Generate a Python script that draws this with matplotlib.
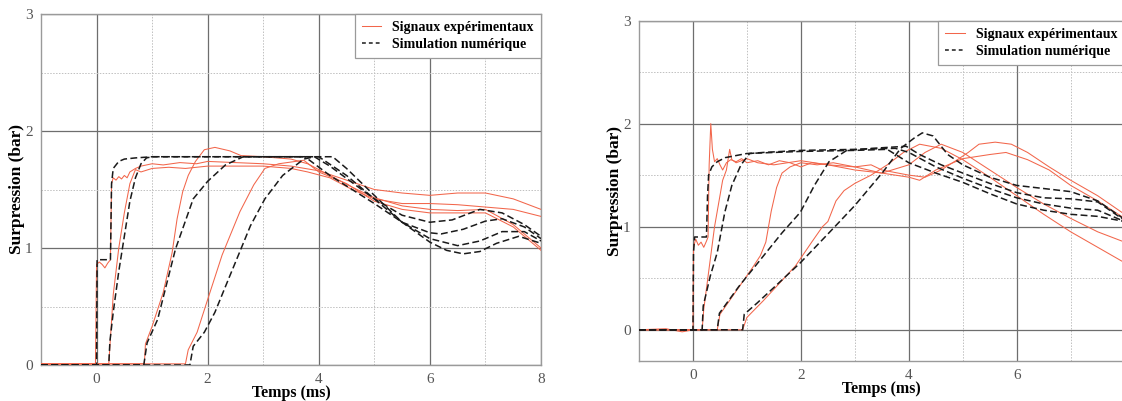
import numpy as np
import matplotlib
matplotlib.use("Agg")
import matplotlib.pyplot as plt
from matplotlib.ticker import MultipleLocator

plt.rcParams['font.family'] = ['Liberation Serif', 'DejaVu Serif']

# ---- left panel data (t in ms, p in bar) ----
tL_exp1 = [-1, -0.6, -0.3, -0.02, 0.0, 0.05, 0.1, 0.15, 0.2, 0.25, 0.27, 0.3, 0.35, 0.4, 0.45, 0.5, 0.55, 0.6,
           0.7, 0.8, 1.0, 1.2, 1.5, 1.8, 2.0, 2.5, 3.0, 3.5, 4.0, 4.5, 5.0, 5.5, 6.0, 6.5, 7.0, 7.5, 8.0]
pL_exp1 = [0.01, 0.0, 0.01, 0.01, 0.86, 0.88, 0.86, 0.83, 0.87, 0.9, 1.55, 1.6, 1.58, 1.61, 1.59, 1.62, 1.6, 1.65,
           1.68, 1.7, 1.72, 1.71, 1.73, 1.72, 1.74, 1.73, 1.72, 1.7, 1.66, 1.58, 1.5, 1.47, 1.45, 1.47, 1.47, 1.42, 1.33]
tL_exp2 = [-1, 0.22, 0.3, 0.4, 0.5, 0.6, 0.7, 0.8, 1.0, 1.3, 1.6, 2.0, 2.5, 3.0, 3.5, 3.8, 4.2, 4.6, 5.0,
           5.5, 6.0, 6.5, 7.0, 7.5, 8.0]
pL_exp2 = [0.01, 0.01, 0.6, 1.0, 1.3, 1.55, 1.67, 1.65, 1.68, 1.69, 1.68, 1.7, 1.7, 1.7, 1.68, 1.65, 1.6, 1.5, 1.42,
           1.38, 1.38, 1.37, 1.35, 1.33, 1.27]
tL_exp3 = [-1, 0.86, 0.88, 1.0, 1.2, 1.36, 1.45, 1.55, 1.65, 1.78, 1.94, 2.13, 2.4, 2.6, 3.0, 3.5, 3.8, 4.2,
           4.6, 5.0, 5.5, 6.0, 6.5, 7.0, 7.5, 8.0]
pL_exp3 = [0.01, 0.01, 0.18, 0.33, 0.62, 0.96, 1.25, 1.48, 1.62, 1.74, 1.84, 1.86, 1.83, 1.79, 1.78, 1.76, 1.72, 1.62,
           1.52, 1.43, 1.36, 1.33, 1.32, 1.33, 1.2, 1.0]
tL_exp4 = [-1, 1.6, 1.65, 1.81, 2.0, 2.26, 2.58, 2.83, 3.03, 3.28, 3.73, 4.0, 4.5, 5.0, 5.5, 6.0, 6.5,
           7.0, 7.5, 8.0]
pL_exp4 = [0.01, 0.01, 0.13, 0.28, 0.56, 0.94, 1.31, 1.54, 1.68, 1.72, 1.75, 1.65, 1.55, 1.4, 1.33, 1.3, 1.3,
           1.3, 1.18, 0.98]

tL_sim1 = [-1, 0.0, 0.01, 0.25, 0.27, 0.3, 0.4, 0.5, 0.7, 1.0, 2.0, 3.0, 4.25, 4.5, 5.0, 5.5, 6.0, 6.3, 6.6,
           6.9, 7.2, 7.6, 8.0]
pL_sim1 = [0.0, 0.0, 0.9, 0.9, 1.55, 1.68, 1.74, 1.76, 1.77, 1.78, 1.78, 1.78, 1.78, 1.68, 1.45, 1.22, 1.05, 0.98, 0.95,
           0.97, 1.04, 1.1, 1.04]
tL_sim2 = [-1, 0.22, 0.24, 0.3, 0.4, 0.5, 0.6, 0.7, 0.8, 0.9, 1.0, 2.0, 3.0, 4.0, 4.5, 5.0, 5.5, 6.0, 6.5,
           6.9, 7.3, 7.7, 8.0]
pL_sim2 = [0.0, 0.0, 0.2, 0.45, 0.8, 1.1, 1.4, 1.6, 1.72, 1.77, 1.78, 1.78, 1.78, 1.78, 1.62, 1.42, 1.22, 1.08, 1.02,
           1.06, 1.14, 1.14, 1.06]
tL_sim3 = [-1, 0.85, 0.91, 1.1, 1.42, 1.74, 2.0, 2.32, 2.64, 3.0, 3.75, 4.2, 4.6, 5.0, 5.5, 6.0, 6.2, 6.6,
           7.0, 7.3, 7.7, 8.0]
pL_sim3 = [0.0, 0.0, 0.19, 0.39, 0.99, 1.42, 1.57, 1.71, 1.78, 1.78, 1.78, 1.62, 1.5, 1.38, 1.22, 1.13, 1.12, 1.16,
           1.23, 1.25, 1.18, 1.08]
tL_sim4 = [-1, 1.68, 1.74, 1.94, 2.13, 2.38, 2.58, 2.77, 3.03, 3.35, 3.73, 3.92, 4.2, 4.6, 5.0, 5.5, 6.0,
           6.4, 6.9, 7.3, 7.7, 8.0]
pL_sim4 = [0.0, 0.0, 0.16, 0.28, 0.45, 0.74, 0.97, 1.19, 1.42, 1.62, 1.76, 1.78, 1.7, 1.56, 1.42, 1.28, 1.22, 1.24,
           1.33, 1.3, 1.2, 1.1]

# ---- right panel data ----
tR_exp1 = [-1, -0.5, -0.2, 0.0, 0.01, 0.05, 0.1, 0.15, 0.2, 0.25, 0.28, 0.3, 0.33, 0.36, 0.4, 0.45, 0.5, 0.55,
           0.62, 0.7, 0.8, 0.9, 1.0, 1.2, 1.4, 1.6, 1.8, 2.0, 2.2, 2.5, 3.0, 3.3, 3.5, 3.8, 4.0, 4.3, 4.6,
           4.9, 5.1, 5.3, 5.6, 5.9, 6.2, 6.6, 7.0, 7.5, 8.0]
pR_exp1 = [0.0, 0.01, -0.02, 0.0, 0.8, 0.88, 0.82, 0.85, 0.8, 0.86, 0.9, 1.6, 2.0, 1.75, 1.63, 1.66, 1.6, 1.55,
           1.62, 1.65, 1.63, 1.66, 1.62, 1.64, 1.6, 1.64, 1.62, 1.58, 1.62, 1.6, 1.58, 1.6, 1.55, 1.52, 1.5, 1.48, 1.55,
           1.65, 1.72, 1.8, 1.82, 1.8, 1.72, 1.58, 1.45, 1.3, 1.12]
tR_exp2 = [-1, 0.17, 0.2, 0.3, 0.4, 0.5, 0.55, 0.62, 0.68, 0.72, 0.8, 1.0, 1.2, 1.5, 2.0, 2.5, 3.0, 3.5, 4.0,
           4.2, 4.5, 5.0, 5.5, 5.8, 6.2, 6.6, 7.0, 7.5, 8.0]
pR_exp2 = [0.0, 0.0, 0.2, 0.6, 1.0, 1.3, 1.45, 1.55, 1.75, 1.65, 1.62, 1.66, 1.62, 1.6, 1.64, 1.6, 1.55, 1.52, 1.48,
           1.45, 1.55, 1.66, 1.7, 1.72, 1.65, 1.55, 1.4, 1.25, 1.08]
tR_exp3 = [-1, 0.45, 0.5, 0.7, 0.9, 1.1, 1.25, 1.35, 1.45, 1.55, 1.65, 1.8, 2.0, 2.3, 2.6, 3.0, 3.5, 4.0, 4.3,
           4.6, 5.0, 5.5, 6.0, 6.5, 7.0, 7.5, 8.0]
pR_exp3 = [0.0, 0.0, 0.15, 0.3, 0.45, 0.6, 0.72, 0.85, 1.15, 1.38, 1.52, 1.58, 1.62, 1.6, 1.62, 1.58, 1.52, 1.6, 1.72,
           1.8, 1.72, 1.55, 1.38, 1.22, 1.08, 0.95, 0.85]
tR_exp4 = [-1, 0.92, 1.0, 1.3, 1.6, 1.9, 2.2, 2.4, 2.5, 2.65, 2.8, 3.0, 3.3, 3.6, 3.9, 4.2, 4.6, 5.0, 5.5,
           6.0, 6.5, 7.0, 7.5, 8.0]
pR_exp4 = [0.0, 0.0, 0.12, 0.28, 0.45, 0.62, 0.85, 1.0, 1.05, 1.25, 1.35, 1.42, 1.5, 1.6, 1.72, 1.8, 1.76, 1.65, 1.48,
           1.3, 1.12, 0.95, 0.8, 0.65]

tR_sim1 = [-1, 0.0, 0.01, 0.03, 0.25, 0.27, 0.29, 0.35, 0.45, 0.6, 0.8, 1.0, 1.5, 2.0, 3.0, 3.6, 4.0, 4.5,
           5.0, 5.5, 6.0, 6.5, 7.0, 7.5, 8.0]
pR_sim1 = [0.0, 0.0, 0.75, 0.9, 0.9, 1.3, 1.5, 1.58, 1.63, 1.67, 1.69, 1.71, 1.72, 1.73, 1.74, 1.75, 1.62, 1.52,
           1.43, 1.32, 1.22, 1.16, 1.12, 1.1, 1.05]
tR_sim2 = [-1, 0.17, 0.19, 0.32, 0.45, 0.59, 0.72, 0.89, 1.05, 1.3, 2.0, 3.0, 3.75, 4.0, 4.5, 5.0, 5.5, 6.0,
           6.5, 7.0, 7.5, 8.0]
pR_sim2 = [0.0, 0.0, 0.23, 0.52, 0.75, 1.14, 1.4, 1.6, 1.71, 1.72, 1.74, 1.75, 1.76, 1.72, 1.58, 1.47, 1.37, 1.28,
           1.22, 1.18, 1.16, 1.05]
tR_sim3 = [-1, 0.45, 0.49, 0.85, 1.25, 1.65, 1.99, 2.25, 2.52, 2.85, 3.32, 3.95, 4.2, 4.6, 5.0, 5.5, 6.0,
           6.5, 7.0, 7.5, 8.0]
pR_sim3 = [0.0, 0.0, 0.16, 0.42, 0.68, 0.94, 1.14, 1.4, 1.63, 1.74, 1.76, 1.78, 1.7, 1.6, 1.52, 1.42, 1.33,
           1.28, 1.27, 1.24, 1.06]
tR_sim4 = [-1, 0.92, 0.95, 1.19, 1.52, 1.99, 2.52, 2.99, 3.52, 3.85, 4.1, 4.25, 4.45, 4.72, 5.0, 5.5, 6.0,
           6.5, 7.0, 7.5, 8.0]
pR_sim4 = [0.0, 0.0, 0.15, 0.26, 0.42, 0.65, 0.94, 1.2, 1.53, 1.76, 1.86, 1.91, 1.88, 1.7, 1.6, 1.48, 1.4,
           1.37, 1.34, 1.25, 1.07]

left_exp = [(tL_exp1, pL_exp1), (tL_exp2, pL_exp2), (tL_exp3, pL_exp3), (tL_exp4, pL_exp4)]
left_sim = [(tL_sim1, pL_sim1), (tL_sim2, pL_sim2), (tL_sim3, pL_sim3), (tL_sim4, pL_sim4)]
right_exp = [(tR_exp1, pR_exp1), (tR_exp2, pR_exp2), (tR_exp3, pR_exp3), (tR_exp4, pR_exp4)]
right_sim = [(tR_sim1, pR_sim1), (tR_sim2, pR_sim2), (tR_sim3, pR_sim3), (tR_sim4, pR_sim4)]

red = '#f2664b'
grid_col = '#6e6e6e'
minor_col = '#c0c0c0'


def draw_panel(ax, exp, sim, ymin):
    for t, p in exp:
        ax.plot(t, p, color=red, lw=0.75, zorder=3)
    for t, p in sim:
        ax.plot(t, p, color='#1a1a1a', lw=1.1, linestyle=(0, (4.5, 2.2)), zorder=4)
    ax.plot([], [], color=red, lw=0.75, label='Signaux expérimentaux')
    ax.plot([], [], color='#1a1a1a', lw=1.1, linestyle=(0, (2.5, 2)), label='Simulation numérique')
    ax.set_xlim(-1, 8)
    ax.set_ylim(ymin, 3)
    ax.xaxis.set_major_locator(MultipleLocator(2))
    ax.xaxis.set_minor_locator(MultipleLocator(1))
    ax.yaxis.set_major_locator(MultipleLocator(1))
    ax.yaxis.set_minor_locator(MultipleLocator(0.5))
    ax.grid(which='major', color=grid_col, lw=0.9, zorder=1)
    ax.grid(which='minor', color=minor_col, lw=0.7, linestyle=(0, (1.5, 1.5)), zorder=1)
    ax.tick_params(which='both', length=0, labelsize=11, labelcolor='#555555', pad=6)
    for s in ax.spines.values():
        s.set_color('#9a9a9a')
        s.set_linewidth(1.0)
    ax.set_xlabel('Temps (ms)', fontweight='bold', fontsize=11.5, labelpad=-1)
    ax.set_ylabel('Surpression (bar)', fontweight='bold', fontsize=12.5, labelpad=0)
    leg = ax.legend(loc='upper right', borderaxespad=0, fancybox=False, framealpha=1,
                    edgecolor='#9a9a9a', prop={'weight': 'bold', 'size': 10.1},
                    handlelength=1.4, handletextpad=0.8, borderpad=0.5, labelspacing=0.3)
    leg.get_frame().set_linewidth(0.9)
    leg.set_zorder(10)


fig = plt.figure(figsize=(11.22, 4.01), dpi=100)
axL = fig.add_axes([41 / 1122, 36 / 401, 500 / 1122, 351 / 401])
axR = fig.add_axes([639 / 1122, 40.3 / 401, 485.7 / 1122, 340.2 / 401])
draw_panel(axL, left_exp, left_sim, 0)
draw_panel(axR, right_exp, right_sim, -0.3)

fig.savefig('out.png', dpi=100)
